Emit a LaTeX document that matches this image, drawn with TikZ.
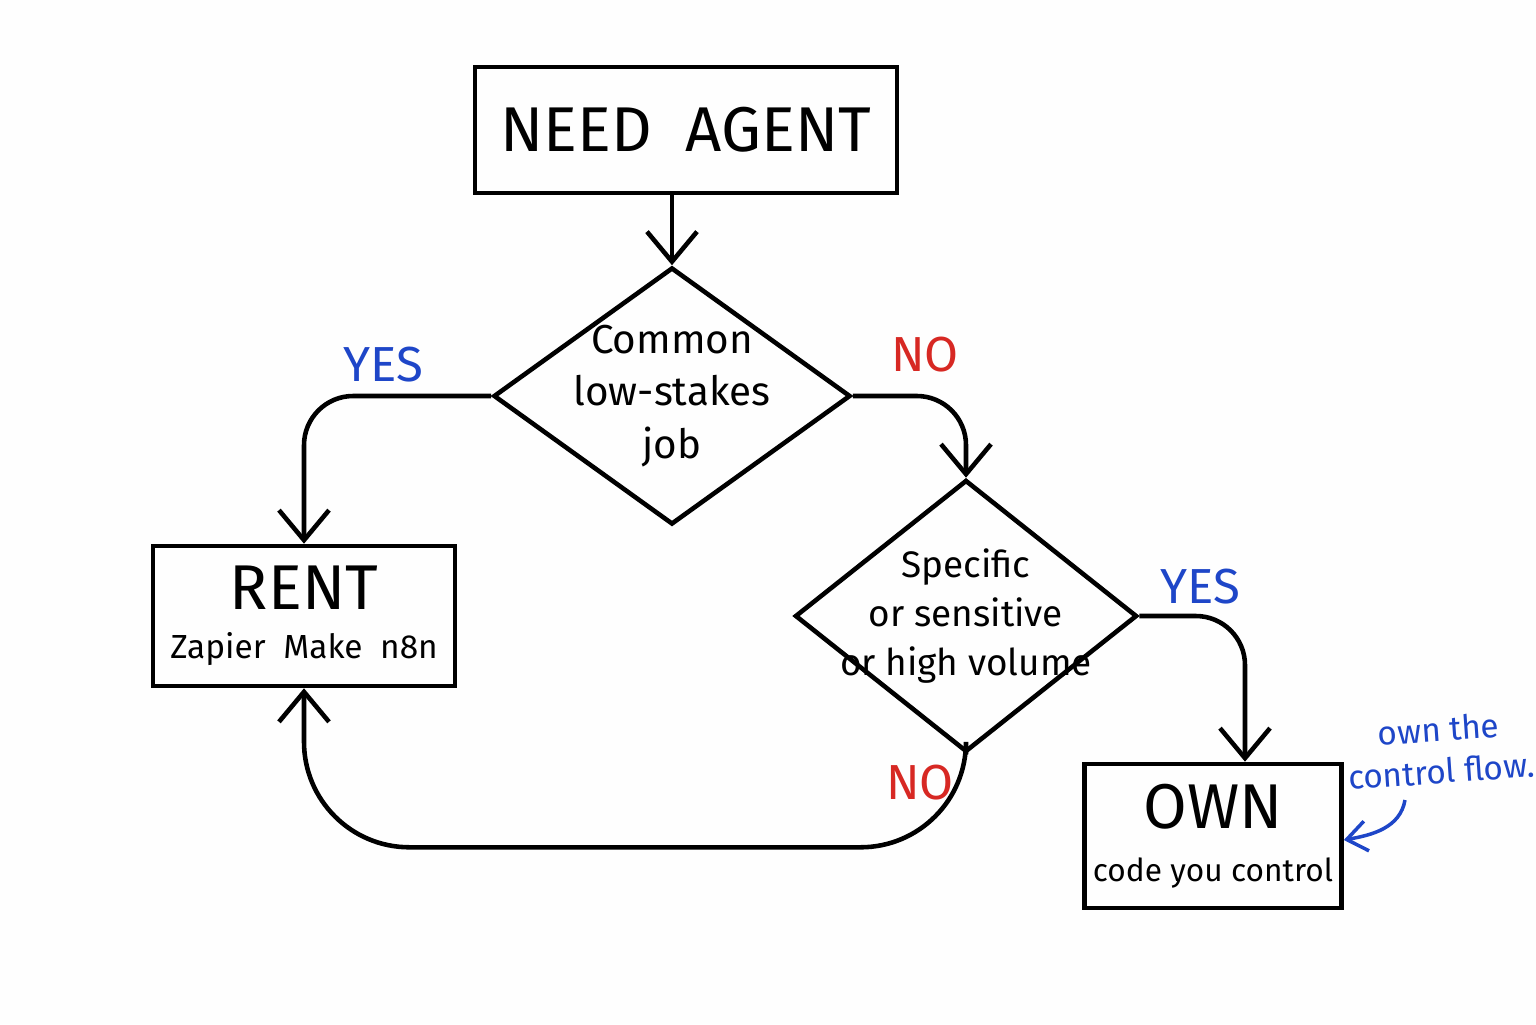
\documentclass[tikz,border=0pt]{standalone}
\usepackage{fontspec}
\setmainfont{Fira Sans}
\usetikzlibrary{positioning, shapes.geometric, arrows.meta, calc}
\definecolor{penblue}{RGB}{30,70,200}
\definecolor{penred}{RGB}{215,40,35}
\tikzset{%
  box/.style={draw, line width=1.3pt, rectangle, align=center, inner sep=2pt},
  decision/.style={draw, line width=1.3pt, diamond, inner sep=0pt},
  dtext/.style={align=center, font=\fontsize{11.5}{15}\selectfont},
  flow/.style={draw, ->, line width=1.3pt, >={Straight Barb[length=3mm,width=5mm]}},
  yes/.style={text=penblue, font=\fontsize{14}{18}\selectfont},
  no/.style={text=penred, font=\fontsize{14}{18}\selectfont}
}
\begin{document}
\begin{tikzpicture}
\fill[white!92!black!2] (0,0) rectangle (15.36,10.24);
\useasboundingbox (0,0) rectangle (15.36,10.24);

\node[box, minimum width=4.22cm, minimum height=1.26cm, font=\fontsize{18}{22}\selectfont] (need) at (6.86,8.94) {NEED\ \ AGENT};
\node[decision, minimum width=3.57cm, minimum height=2.57cm] (common) at (6.72,6.28) {};
\node[dtext] (commontxt) at (common.center) {Common\\low-stakes\\job};
\node[box, minimum width=3.02cm, minimum height=1.4cm] (rent) at (3.04,4.08) {{\fontsize{18}{22}\selectfont RENT}\\[2pt]{\fontsize{9.5}{12}\selectfont Zapier\ \ Make\ \ n8n}};
\node[decision, minimum width=3.42cm, minimum height=2.72cm] (specific) at (9.66,4.08) {};
\node[dtext, font=\fontsize{10.5}{14}\selectfont] (specifictxt) at (specific.center) {Specific\\or sensitive\\or high volume};
\node[box, minimum width=2.57cm, minimum height=1.44cm] (own) at (12.13,1.88) {{\fontsize{18}{22}\selectfont OWN}\\[3pt]{\fontsize{9}{12}\selectfont code you control}};

\node[yes] (yes1) at (3.83,6.59) {YES};
\node[no] (no1) at (9.25,6.69) {NO};
\node[yes] (yes2) at (12.00,4.37) {YES};
\node[no] (no2) at (9.20,2.41) {NO};

\node[text=penblue, align=center, font=\fontsize{9.5}{12}\selectfont, rotate=4] (note) at (14.40,2.74) {own the\\control flow.};
\coordinate (ownin) at ($(own.north)+(0.32,0)$);

\draw[flow] (need.south -| common.north) -- (common.north);
\draw[flow] (common.west) {[rounded corners=14pt] -| (rent.north)};
\draw[flow] (common.east) {[rounded corners=14pt] -| (specific.north)};
\draw[flow] (specific.east) {[rounded corners=14pt] -| (ownin)};
\draw[flow] (specific.south) {[rounded corners=30pt] -- ++(0,-0.93) -| (rent.south)};
\draw[->, penblue, line width=1pt, >={Straight Barb[length=2mm,width=3mm]}] (14.05,2.24) to[out=-100, in=10] (own.east |- 0,1.84);
\end{tikzpicture}
\end{document}
